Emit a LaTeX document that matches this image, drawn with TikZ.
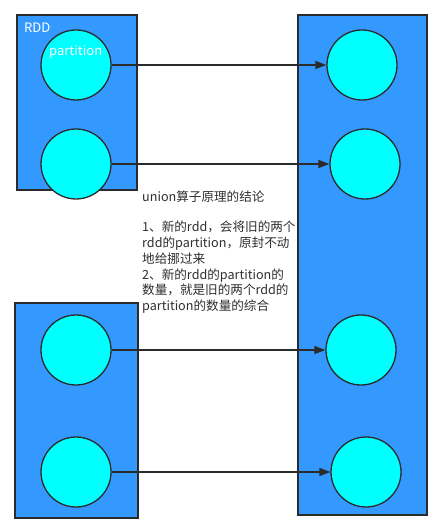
\documentclass[tikz,border=0pt]{standalone}
\usepackage{fontspec}
\setmainfont{Noto Sans CJK SC}
\usetikzlibrary{arrows.meta}
\definecolor{rddblue}{HTML}{3399FF}
\definecolor{partcyan}{HTML}{00FFFF}
\definecolor{edge}{HTML}{2B2B2B}
\definecolor{txt}{HTML}{2E2E2E}
\begin{document}
\begin{tikzpicture}[x=1pt,y=-1pt,
  rddbox/.style={draw=edge,line width=1.5pt,fill=rddblue},
  part/.style={circle,draw=edge,line width=1.3pt,fill=partcyan,minimum size=70pt,inner sep=0pt},
  conn/.style={draw=edge,line width=1.4pt,-{Triangle[length=11pt,width=8pt]}},
  lbl/.style={text=white,font=\fontsize{13pt}{15pt}\selectfont,inner sep=0pt}]
\useasboundingbox (0,0) rectangle (443,526);
% RDD boxes
\draw[rddbox] (17,15) rectangle (137,190) coordinate (rddA);
\draw[rddbox] (15,303) rectangle (138,518) coordinate (rddB);
\draw[rddbox] (298,15) rectangle (427,515) coordinate (rddU);
% partitions left
\node[part] (p1) at (76,65) {};
\node[part] (p2) at (76,164) {};
\node[part] (p3) at (76,350) {};
\node[part] (p4) at (76,472) {};
% partitions right
\node[part] (q1) at (362,65) {};
\node[part] (q2) at (365,164) {};
\node[part] (q3) at (361,350) {};
\node[part] (q4) at (366,472) {};
% labels
\node[lbl,anchor=west] (rddlabel) at (24,28) {RDD};
\node[lbl,anchor=west] (plabel) at (49,52) {partition};
% connectors
\draw[conn] (p1) -- (q1);
\draw[conn] (p2) -- (q2);
\draw[conn] (p3) -- (q3);
\draw[conn] (p4) -- (q4);
% note
\node[anchor=north west,align=left,text=txt,inner sep=0pt,
  font=\fontsize{12.6pt}{15.8pt}\selectfont] (note) at (142,191)
  {union算子原理的结论\\[14pt]
   1、新的rdd，会将旧的两个\\
   rdd的partition，原封不动\\
   地给挪过来\\
   2、新的rdd的partition的\\
   数量，就是旧的两个rdd的\\
   partition的数量的综合};
\end{tikzpicture}
\end{document}
